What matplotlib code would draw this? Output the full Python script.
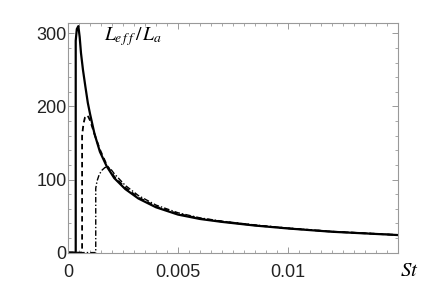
import matplotlib.pyplot as plt
from matplotlib.ticker import MultipleLocator

# solid curve
st_a = [0, 0.00035, 0.00035, 0.00040, 0.00047, 0.00053, 0.00059, 0.00068, 0.00079, 0.00090,
        0.00100, 0.00120, 0.00145, 0.00176, 0.0021, 0.0026, 0.0032, 0.0040, 0.0050, 0.0060,
        0.0070, 0.0085, 0.0100, 0.0120, 0.0150]
L_a = [0, 0, 290, 306, 310, 295, 273, 250, 227, 205,
       190, 163, 138, 118, 102, 87, 74, 62, 52, 46,
       42, 37, 33, 28.5, 24]

# dashed curve
st_b = [0, 0.00064, 0.00064, 0.00070, 0.00077, 0.00084, 0.00092, 0.00100, 0.00110, 0.00125,
        0.00145, 0.00176, 0.0021, 0.0026, 0.0032, 0.0040, 0.0050, 0.0060, 0.0070, 0.0085,
        0.0100, 0.0120, 0.0150]
L_b = [0, 0, 160, 176, 185, 188, 186, 181, 172, 158,
       141, 120, 104, 89, 75.5, 63, 53, 46.7, 42.5, 37.3,
       33.2, 28.7, 24.1]

# dot-dashed curve
st_c = [0, 0.00126, 0.00126, 0.00132, 0.00142, 0.00155, 0.00168, 0.00180, 0.00195, 0.0021,
        0.0026, 0.0032, 0.0040, 0.0050, 0.0060, 0.0070, 0.0085, 0.0100, 0.0120, 0.0150]
L_c = [0, 0, 88, 98, 107, 113, 116.5, 117, 114, 108,
       92, 78, 65, 54.5, 47.5, 43, 37.8, 33.5, 28.9, 24.2]

xticks = [0, 0.005, 0.01, 0.015]
xlabels = ['0', '0.005', '0.01', '']
yticks = [0, 100, 200, 300]

plt.rcParams['font.family'] = ['Liberation Sans', 'DejaVu Sans']
plt.rcParams['mathtext.fontset'] = 'stix'

fig = plt.figure(figsize=(4.36, 2.9), dpi=100)
ax = fig.add_axes([0.156, 0.129, 0.757, 0.791])

ax.plot(st_a, L_a, color='black', lw=1.6)
ax.plot(st_b, L_b, color='black', lw=1.3, linestyle=(0, (3, 2)))
ax.plot(st_c, L_c, color='black', lw=1.0, linestyle=(0, (4, 1.5, 1, 1.5)))

ax.set_xlim(0, 0.015)
ax.set_ylim(0, 314)

ax.set_xticks(xticks)
ax.set_xticklabels(xlabels)
ax.xaxis.set_minor_locator(MultipleLocator(0.0005))
ax.set_yticks(yticks)
ax.yaxis.set_minor_locator(MultipleLocator(20))

grey = '#999999'
for s in ax.spines.values():
    s.set_color(grey)
    s.set_linewidth(0.8)
ax.tick_params(which='both', direction='in', top=True, right=True, color=grey,
               labelsize=13, labelcolor='#222222')
ax.tick_params(axis='y', pad=1)
ax.tick_params(axis='x', pad=8)
ax.tick_params(which='major', length=4, width=0.7)
ax.tick_params(which='minor', length=2, width=0.6)

ax.text(0.00165, 290, r'$L_{e\,f\,f}\,/\,L_a$', fontsize=14)
fig.text(0.917, 0.068, r'$St$', fontsize=15, ha='left', va='center')

fig.savefig('out.png', dpi=100)
